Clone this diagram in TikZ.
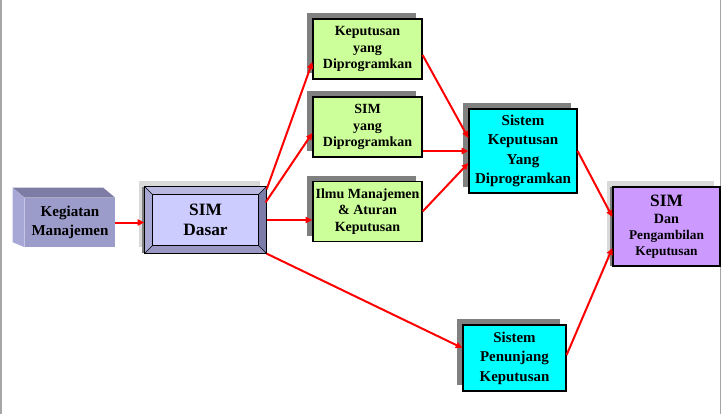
\documentclass[tikz,border=0pt]{standalone}
\usepackage{fontspec}
\setmainfont{Liberation Serif}
\usetikzlibrary{arrows.meta,calc,shadows}
\definecolor{kphijau}{HTML}{CCFF99}
\definecolor{kbiru}{HTML}{00FFFF}
\definecolor{kungu}{HTML}{CC99FF}
\definecolor{kdasar}{HTML}{CCCCFF}
\definecolor{kubdepan}{HTML}{9C9CCB}
\definecolor{kubatas}{HTML}{7C7CA4}
\definecolor{kubkiri}{HTML}{A8A8D6}
\definecolor{bvatas}{HTML}{B8B8E0}
\definecolor{bvkiri}{HTML}{A8A8D2}
\definecolor{bvkanan}{HTML}{7C7CA8}
\definecolor{bvbawah}{HTML}{9898C2}

\begin{document}
\begin{tikzpicture}[x=0.75pt,y=-0.75pt,
  box/.style={draw=black,line width=0.9pt,rectangle,inner sep=0pt,align=center,font=\bfseries},
  greybox/.style={box,general shadow={fill=gray,shadow xshift=-4.5pt,shadow yshift=4.5pt}},
  twobox/.style={box,general shadow={fill=black!15,shadow xshift=-4.5pt,shadow yshift=4.5pt},
    general shadow={fill=gray,shadow xshift=-2.25pt,shadow yshift=0pt}},
  kpbox/.style={greybox,fill=kphijau,minimum width=81.75pt,minimum height=45pt,
    font=\bfseries\fontsize{10.5}{12.5}\selectfont},
  link/.style={draw=red,line width=1.5pt,-{Triangle[length=5pt,width=4.5pt]}}]
\useasboundingbox (0,0) rectangle (722,414);
\draw[gray!70,line width=1.2pt] (0.8,0) -- (0.8,414);
\draw[gray!70,line width=1.2pt] (720.5,0) -- (720.5,414);

% kubus kegiatan
\node[inner sep=0pt,fill=kubdepan,minimum width=67.5pt,minimum height=36.75pt,align=center,
  font=\bfseries\fontsize{11.3}{14.5}\selectfont] (keg) at (70,222.5) {Kegiatan\\Manajemen};
\fill[kubatas] (keg.north west) -- ++(-12,-10) -- ($(keg.north east)+(-12,-10)$) -- (keg.north east) -- cycle;
\fill[kubkiri] (keg.north west) -- ++(-12,-10) -- ($(keg.south west)+(-12,-5)$) -- (keg.south west) -- cycle;

% SIM dasar
\node[twobox,fill=kdasar,minimum width=90.75pt,minimum height=49.5pt,
  font=\bfseries\fontsize{13}{15.5}\selectfont] (sim) at (205.5,220) {SIM\\Dasar};
\coordinate (s1) at ($(sim.north west)+(8,8)$);
\coordinate (s2) at ($(sim.north east)+(-8,8)$);
\coordinate (s3) at ($(sim.south east)+(-8,-8)$);
\coordinate (s4) at ($(sim.south west)+(8,-8)$);
\fill[bvatas] (sim.north west) -- (sim.north east) -- (s2) -- (s1) -- cycle;
\fill[bvkiri] (sim.north west) -- (s1) -- (s4) -- (sim.south west) -- cycle;
\fill[bvkanan] (sim.north east) -- (sim.south east) -- (s3) -- (s2) -- cycle;
\fill[bvbawah] (sim.south west) -- (s4) -- (s3) -- (sim.south east) -- cycle;
\draw[line width=0.5pt] (s1) rectangle (s3);
\draw[line width=0.5pt] (sim.north west) -- (s1) (sim.north east) -- (s2)
  (sim.south east) -- (s3) (sim.south west) -- (s4);
\draw[line width=0.9pt] (sim.north west) rectangle (sim.south east);

% kotak hijau
\node[kpbox] (kp1) at (367.5,49) {Keputusan\\yang\\Diprogramkan};
\node[kpbox] (kp2) at (367.5,127) {SIM\\yang\\Diprogramkan};
\node[kpbox] (kp3) at (367.5,211.5) {Ilmu Manajemen\\\& Aturan\\Keputusan};

\node[greybox,fill=kbiru,minimum width=81pt,minimum height=63pt,
  font=\bfseries\fontsize{11.3}{14.6}\selectfont] (skd) at (523,151)
  {Sistem\\Keputusan\\Yang\\Diprogramkan};
\node[greybox,fill=kbiru,minimum width=77.25pt,minimum height=49.5pt,
  font=\bfseries\fontsize{11.2}{14.6}\selectfont] (spk) at (514.5,358)
  {Sistem\\Penunjang\\Keputusan};
\node[twobox,fill=kungu,minimum width=80.25pt,minimum height=59.25pt] (sdp) at (666.5,226.5)
  {\fontsize{13}{14}\selectfont SIM\\[0.5pt]\fontsize{10.6}{12.7}\selectfont Dan\\Pengambilan\\Keputusan};

% panah
\draw[link] (keg.east) -- (keg.east -| sim.west);
\draw[link] ($(sim.north east)+(0,3)$) -- ($(kp1.west)+(0,13)$);
\draw[link] ($(sim.north east)+(-1,16)$) -- ($(kp2.west)+(0,6)$);
\draw[link] (sim.east) -- (sim.east -| kp3.west);
\draw[link] (sim.south east) -- ($(spk.west)+(0,-10)$);
\draw[link] ($(kp1.east)+(0,6)$) -- ($(skd.west)+(0,-13)$);
\draw[link] (kp2.east |- skd.west) -- (skd.west);
\draw[link] (kp3.east) -- ($(skd.west)+(0,12)$);
\draw[link] (skd.east) -- ($(sdp.west)+(0,-9.5)$);
\draw[link] ($(spk.east)+(0,-3)$) -- ($(sdp.west)+(0,21.5)$);
\end{tikzpicture}
\end{document}
